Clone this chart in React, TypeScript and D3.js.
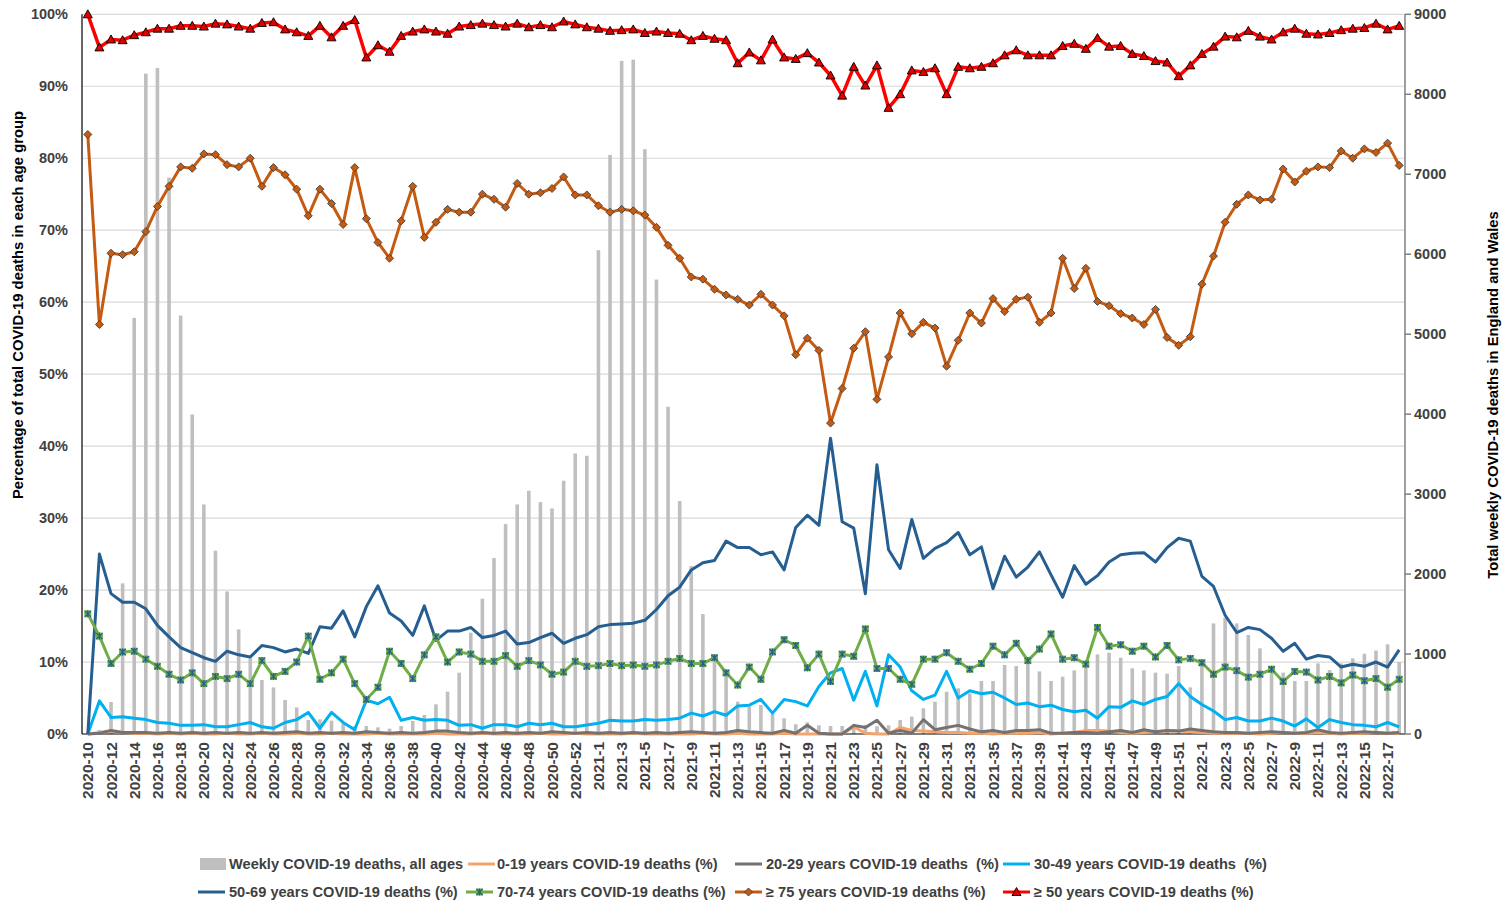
import React, { useEffect, useRef } from 'react';
import * as d3 from 'd3';

// ---- categories (ISO weeks) ----
const weekRanges: [number, number, number][] = [
  [2020, 10, 53],
  [2021, 1, 52],
  [2022, 1, 18],
];
const weeks: string[] = [];
weekRanges.forEach(([yr, a, b]) => {
  for (let w = a; w <= b; w++) weeks.push(`${yr}-${w}`);
});

// ---- series ----
const weeklyDeaths = [10, 50, 400, 1884, 5204, 8258, 8329, 6958, 5233, 3996, 2871, 2292, 1783, 1308, 946, 675, 583, 425, 333, 175,
  183, 167, 133, 100, 100, 83, 67, 100, 163, 238, 371, 529, 767, 1267, 1692, 2200, 2625, 2871, 3042, 2900,
  2821, 3167, 3508, 3479, 6050, 7242, 8417, 8433, 7313, 5683, 4092, 2913, 2100, 1500, 988, 767, 404, 342, 363, 250,
  196, 121, 146, 108, 100, 100, 115, 115, 96, 108, 175, 217, 321, 404, 529, 571, 508, 663, 663, 863,
  850, 883, 783, 663, 717, 796, 863, 996, 1017, 954, 821, 796, 767, 754, 850, 583, 900, 1383, 1454, 1383,
  1238, 1071, 800, 767, 663, 663, 883, 800, 883, 946, 1004, 1042, 1121, 900];

const pct0to19 = [0, 0.2, 0.4, 0.2, 0.1, 0.1, 0, 0.1, 0, 0.1, 0, 0, 0.1, 0, 0, 0.1, 0, 0, 0.1, 0,
  0, 0.1, 0, 0, 0, 0.1, 0, 0, 0, 0, 0.1, 0, 0, 0, 0.1, 0, 0, 0, 0, 0.1,
  0, 0, 0.1, 0, 0, 0, 0, 0.1, 0, 0, 0, 0, 0, 0.1, 0, 0, 0.1, 0, 0, 0,
  0.1, 0, 0, 0, 0, 0, 1.0, 0.1, 0, 0, 0.9, 0.5, 0.4, 0.3, 0.2, 0.2, 0.1, 0.1, 0, 0.1,
  0.1, 0.1, 0.2, 0, 0.1, 0.2, 0.5, 0.5, 0.4, 0.2, 0.1, 0.2, 0.3, 0.4, 0.4, 0.3, 0.2, 0.1, 0.1, 0.1,
  0.1, 0, 0.1, 0.2, 0.1, 0.1, 0.2, 0.1, 0, 0.1, 0.1, 0.2, 0.1, 0.1];

const pct20to29 = [0, 0.1, 0.5, 0.2, 0.2, 0.2, 0.1, 0.2, 0.1, 0.2, 0.1, 0.2, 0.1, 0.2, 0.1, 0.2, 0.1, 0.2, 0.3, 0.1,
  0.2, 0.1, 0.2, 0.1, 0.3, 0.2, 0.1, 0.2, 0.1, 0.2, 0.4, 0.4, 0.2, 0.1, 0.2, 0.1, 0.2, 0.1, 0.2, 0.1,
  0.3, 0.2, 0.1, 0.2, 0.1, 0.2, 0.1, 0.2, 0.1, 0.2, 0.1, 0.2, 0.3, 0.2, 0.1, 0.2, 0.5, 0.3, 0.2, 0.1,
  0.5, 0.1, 1.2, 0.1, 0, 0, 1.2, 0.9, 1.9, 0.1, 0.5, 0.1, 2.0, 0.6, 0.9, 1.2, 0.7, 0.3, 0.5, 0.2,
  0.5, 0.5, 0.6, 0.1, 0.1, 0.2, 0.2, 0.1, 0.3, 0.5, 0.2, 0.6, 0.3, 0.5, 0.4, 0.7, 0.5, 0.3, 0.2, 0.2,
  0.1, 0.2, 0.3, 0.2, 0.1, 0.2, 0.6, 0.2, 0.1, 0.2, 0.3, 0.2, 0.1, 0.2];

const pct30to49 = [0, 4.6, 2.3, 2.4, 2.2, 2.0, 1.6, 1.5, 1.2, 1.2, 1.3, 1.0, 1.0, 1.3, 1.6, 1.0, 0.8, 1.6, 2.0, 3.0,
  0.8, 3.0, 1.6, 0.6, 4.7, 4.2, 5.1, 1.9, 2.3, 1.9, 2.0, 1.9, 1.2, 1.3, 0.8, 1.3, 1.3, 1.0, 1.5, 1.3,
  1.5, 1.0, 1.0, 1.25, 1.5, 1.9, 1.8, 1.8, 2.0, 1.9, 2.0, 2.2, 2.9, 2.5, 3.1, 2.6, 3.9, 4.0, 4.8, 2.9,
  4.8, 4.5, 3.9, 6.6, 8.5, 9.1, 4.7, 8.7, 3.9, 11.0, 9.3, 6.0, 4.8, 5.4, 8.7, 5.0, 6.0, 5.6, 5.8, 5.0,
  4.1, 4.3, 3.8, 4.0, 3.4, 3.1, 3.3, 2.2, 3.8, 3.7, 4.6, 4.1, 4.8, 5.2, 7.0, 5.2, 4.1, 3.2, 2.0, 2.3,
  1.8, 1.8, 2.2, 1.8, 1.1, 2.1, 0.9, 2.0, 1.6, 1.3, 1.2, 1.0, 1.6, 1.0];

const pct50to69 = [0, 25.0, 19.5, 18.3, 18.3, 17.4, 15.1, 13.5, 12.0, 11.3, 10.6, 10.1, 11.5, 11.0, 10.7, 12.3, 12.0, 11.4, 11.8, 11.2,
  14.9, 14.7, 17.1, 13.5, 17.7, 20.6, 16.8, 15.7, 13.7, 17.8, 13.0, 14.3, 14.3, 14.8, 13.4, 13.7, 14.3, 12.5, 12.7, 13.4,
  14.0, 12.6, 13.3, 13.8, 14.9, 15.2, 15.3, 15.4, 15.8, 17.3, 19.2, 20.4, 22.8, 23.8, 24.1, 26.8, 25.9, 25.9, 24.9, 25.3,
  22.8, 28.7, 30.4, 29.0, 41.1, 29.5, 28.6, 19.5, 37.4, 25.6, 23.0, 29.8, 24.4, 25.8, 26.6, 28.0, 24.9, 26.0, 20.2, 24.7,
  21.8, 23.2, 25.3, 22.1, 19.0, 23.4, 20.8, 22.0, 23.9, 24.9, 25.1, 25.2, 23.9, 25.9, 27.2, 26.8, 21.9, 20.5, 16.5, 14.1,
  14.8, 14.5, 13.3, 11.5, 12.6, 10.4, 10.9, 10.7, 9.3, 9.7, 9.4, 10.0, 9.3, 11.7];

const pct70to74 = [16.7, 13.6, 9.8, 11.4, 11.5, 10.4, 9.4, 8.3, 7.5, 8.5, 7.0, 8.0, 7.7, 8.3, 7.0, 10.2, 8.0, 8.7, 10.0, 13.6,
  7.6, 8.5, 10.4, 7.0, 4.8, 6.5, 11.5, 9.8, 7.7, 11.0, 13.5, 10.0, 11.4, 11.1, 10.1, 10.1, 10.9, 9.4, 10.2, 9.6,
  8.3, 8.6, 10.1, 9.4, 9.5, 9.8, 9.5, 9.6, 9.4, 9.6, 10.1, 10.5, 9.8, 9.8, 10.6, 8.5, 6.8, 9.3, 7.6, 11.4,
  13.1, 12.3, 9.2, 11.1, 7.3, 11.1, 10.8, 14.6, 9.1, 9.1, 7.6, 6.9, 10.4, 10.4, 11.3, 10.1, 9.0, 9.8, 12.2, 11.0,
  12.6, 10.2, 11.8, 13.9, 10.4, 10.6, 9.7, 14.8, 12.2, 12.4, 11.5, 12.2, 10.7, 12.3, 10.3, 10.5, 9.9, 8.3, 9.3, 8.8,
  7.9, 8.3, 9.0, 7.3, 8.7, 8.6, 7.5, 8.0, 7.1, 8.2, 7.4, 7.7, 6.5, 7.6];

const pct75plus = [83.3, 56.9, 66.8, 66.6, 67.0, 69.8, 73.3, 76.1, 78.8, 78.6, 80.6, 80.5, 79.1, 78.8, 80.0, 76.1, 78.7, 77.7, 75.7, 72.0,
  75.7, 73.7, 70.8, 78.7, 71.6, 68.3, 66.1, 71.3, 76.1, 69.0, 71.1, 72.9, 72.5, 72.5, 75.0, 74.3, 73.2, 76.5, 75.0, 75.2,
  75.8, 77.4, 74.9, 74.9, 73.4, 72.5, 72.9, 72.7, 72.1, 70.4, 67.9, 66.1, 63.5, 63.2, 61.8, 61.0, 60.4, 59.6, 61.1, 59.6,
  58.1, 52.7, 55.0, 53.3, 43.2, 48.0, 53.6, 55.9, 46.5, 52.4, 58.5, 55.6, 57.2, 56.4, 51.1, 54.7, 58.5, 57.1, 60.5, 58.7,
  60.4, 60.7, 57.2, 58.5, 66.1, 61.9, 64.7, 60.1, 59.5, 58.4, 57.8, 56.9, 59.0, 55.1, 54.0, 55.2, 62.5, 66.4, 71.1, 73.6,
  74.9, 74.2, 74.3, 78.5, 76.7, 78.2, 78.8, 78.7, 81.0, 80.0, 81.3, 80.8, 82.1, 79.0];

const pct50plus = [100, 95.4, 96.5, 96.4, 97.1, 97.5, 98.0, 98.0, 98.4, 98.4, 98.3, 98.7, 98.6, 98.3, 98.0, 98.8, 98.9, 97.9, 97.5, 97.0,
  98.4, 96.8, 98.4, 99.2, 94.0, 95.7, 94.8, 97.0, 97.6, 97.9, 97.6, 97.3, 98.3, 98.5, 98.7, 98.5, 98.3, 98.7, 98.2, 98.5,
  98.2, 99.0, 98.6, 98.2, 98.0, 97.7, 97.8, 97.9, 97.4, 97.6, 97.4, 97.3, 96.4, 97.0, 96.6, 96.4, 93.2, 94.7, 93.6, 96.5,
  94.0, 93.8, 94.6, 93.3, 91.5, 88.7, 92.7, 90.1, 92.9, 87.0, 88.9, 92.2, 92.0, 92.5, 88.9, 92.7, 92.5, 92.7, 93.2, 94.3,
  95.0, 94.3, 94.3, 94.3, 95.6, 95.9, 95.2, 96.7, 95.5, 95.6, 94.5, 94.2, 93.5, 93.3, 91.4, 92.9, 94.5, 95.5, 96.9, 96.8,
  97.7, 96.9, 96.5, 97.5, 98.0, 97.3, 97.2, 97.4, 97.8, 98.0, 98.1, 98.7, 97.9, 98.4];

const pctTicks = [0, 10, 20, 30, 40, 50, 60, 70, 80, 90, 100];
const deathTicks = [0, 1000, 2000, 3000, 4000, 5000, 6000, 7000, 8000, 9000];

type Marker = 'none' | 'triangle' | 'diamond' | 'star';
interface LineSeries { name: string; values: number[]; color: string; marker: Marker; width: number; }
const lineSeries: LineSeries[] = [
  { name: '0-19 years COVID-19 deaths (%)', values: pct0to19, color: '#f4a46a', marker: 'none', width: 3 },
  { name: '20-29 years COVID-19 deaths  (%)', values: pct20to29, color: '#757171', marker: 'none', width: 3 },
  { name: '30-49 years COVID-19 deaths  (%)', values: pct30to49, color: '#00b0f0', marker: 'none', width: 3 },
  { name: '50-69 years COVID-19 deaths (%)', values: pct50to69, color: '#255e91', marker: 'none', width: 3 },
  { name: '70-74 years COVID-19 deaths (%)', values: pct70to74, color: '#70ad47', marker: 'star', width: 3 },
  { name: '≥ 75 years COVID-19 deaths (%)', values: pct75plus, color: '#c55a11', marker: 'diamond', width: 3 },
  { name: '≥ 50 years COVID-19 deaths (%)', values: pct50plus, color: '#ff0000', marker: 'triangle', width: 3.5 },
];
const barName = 'Weekly COVID-19 deaths, all ages';

const FONT = "'Liberation Sans', Arial, sans-serif";
const TXT = '#404040';

function drawMarker(g: d3.Selection<SVGGElement, unknown, null, undefined>, m: Marker, x: number, y: number, color: string) {
  if (m === 'triangle') {
    g.append('path').attr('d', `M${x},${y - 4.5}L${x + 4.5},${y + 3.5}L${x - 4.5},${y + 3.5}Z`)
      .attr('fill', '#e00000').attr('stroke', '#000').attr('stroke-width', 0.9);
  } else if (m === 'diamond') {
    g.append('path').attr('d', `M${x},${y - 4}L${x + 4},${y}L${x},${y + 4}L${x - 4},${y}Z`)
      .attr('fill', color).attr('stroke', '#404040').attr('stroke-width', 0.9);
  } else if (m === 'star') {
    g.append('rect').attr('x', x - 3.5).attr('y', y - 3.5).attr('width', 7).attr('height', 7)
      .attr('fill', color);
    g.append('path').attr('d', `M${x - 3},${y - 3}L${x + 3},${y + 3}M${x + 3},${y - 3}L${x - 3},${y + 3}M${x},${y - 3.5}L${x},${y + 3.5}`)
      .attr('stroke', '#255e91').attr('stroke-width', 1.2).attr('fill', 'none');
  }
}

export default function App() {
  const ref = useRef<SVGSVGElement>(null);
  useEffect(() => {
    const svg = d3.select(ref.current!);
    svg.selectAll('*').remove();
    const left = 82, right = 1405, top = 14.3, bottom = 734;
    const x = d3.scaleBand<string>().domain(weeks).range([left, right]).padding(0);
    const cx = (w: string) => (x(w) as number) + x.bandwidth() / 2;
    const yP = d3.scaleLinear().domain([0, 100]).range([bottom, top]);
    const yD = d3.scaleLinear().domain([0, 9000]).range([bottom, top]);

    // gridlines
    svg.append('g').selectAll('line').data(pctTicks.filter(t => t > 0)).join('line')
      .attr('x1', left).attr('x2', right).attr('y1', d => yP(d)).attr('y2', d => yP(d))
      .attr('stroke', '#d9d9d9').attr('stroke-width', 1.2);

    // bars
    const bw = 3.6;
    svg.append('g').selectAll('rect').data(weeklyDeaths).join('rect')
      .attr('x', (d, i) => cx(weeks[i]) - bw / 2).attr('width', bw)
      .attr('y', d => yD(d)).attr('height', d => bottom - yD(d))
      .attr('fill', '#bfbfbf');

    // axes lines
    svg.append('line').attr('x1', left).attr('x2', right).attr('y1', bottom).attr('y2', bottom)
      .attr('stroke', '#000').attr('stroke-width', 1.2);
    svg.append('line').attr('x1', left).attr('x2', left).attr('y1', top).attr('y2', bottom)
      .attr('stroke', '#000').attr('stroke-width', 1.2);
    svg.append('line').attr('x1', right).attr('x2', right).attr('y1', top).attr('y2', bottom)
      .attr('stroke', '#7f7f7f').attr('stroke-width', 1.5);
    svg.append('g').selectAll('line').data(deathTicks).join('line')
      .attr('x1', right).attr('x2', right + 6).attr('y1', d => yD(d)).attr('y2', d => yD(d))
      .attr('stroke', '#7f7f7f').attr('stroke-width', 1.5);

    // lines
    const lineGen = d3.line<number>().x((d, i) => cx(weeks[i])).y(d => yP(d));
    lineSeries.forEach(s => {
      const g = svg.append('g');
      g.append('path').datum(s.values).attr('d', lineGen).attr('fill', 'none')
        .attr('stroke', s.color).attr('stroke-width', s.width).attr('stroke-linejoin', 'round');
      if (s.marker !== 'none') {
        s.values.forEach((v, i) => drawMarker(g, s.marker, cx(weeks[i]), yP(v), s.color));
      }
    });

    // left tick labels
    svg.append('g').selectAll('text').data(pctTicks).join('text')
      .attr('x', 68).attr('y', d => yP(d)).attr('dy', '0.35em').attr('text-anchor', 'end')
      .attr('font-family', FONT).attr('font-size', 14.5).attr('font-weight', 'bold').attr('fill', TXT)
      .text(d => `${d}%`);
    // right tick labels
    svg.append('g').selectAll('text').data(deathTicks).join('text')
      .attr('x', 1414).attr('y', d => yD(d)).attr('dy', '0.35em').attr('text-anchor', 'start')
      .attr('font-family', FONT).attr('font-size', 14.5).attr('font-weight', 'bold').attr('fill', TXT)
      .text(d => `${d}`);
    // x tick labels
    svg.append('g').selectAll('text').data(weeks.filter((w, i) => i % 2 === 0)).join('text')
      .attr('transform', d => `translate(${cx(d) + 5.5},742) rotate(-90)`)
      .attr('text-anchor', 'end')
      .attr('font-family', FONT).attr('font-size', 15.5).attr('font-weight', 'bold').attr('fill', TXT)
      .text(d => d);

    // axis titles
    svg.append('text').attr('transform', 'translate(23,305) rotate(-90)').attr('text-anchor', 'middle')
      .attr('font-family', FONT).attr('font-size', 14.8).attr('font-weight', 'bold').attr('fill', '#000')
      .text('Percentage of total COVID-19 deaths in each age group');
    svg.append('text').attr('transform', 'translate(1498,395) rotate(-90)').attr('text-anchor', 'middle')
      .attr('font-family', FONT).attr('font-size', 14.8).attr('font-weight', 'bold').attr('fill', '#000')
      .text('Total weekly COVID-19 deaths in England and Wales');

    // legend
    const legend = svg.append('g');
    const items: { sym: number; tx: number; y: number; s: LineSeries | null }[] = [
      { sym: 200, tx: 229, y: 864, s: null },
      { sym: 468, tx: 497, y: 864, s: lineSeries[0] },
      { sym: 735, tx: 766, y: 864, s: lineSeries[1] },
      { sym: 1003, tx: 1034, y: 864, s: lineSeries[2] },
      { sym: 198, tx: 229, y: 892, s: lineSeries[3] },
      { sym: 466, tx: 497, y: 892, s: lineSeries[4] },
      { sym: 735, tx: 766, y: 892, s: lineSeries[5] },
      { sym: 1003, tx: 1034, y: 892, s: lineSeries[6] },
    ];
    items.forEach(it => {
      const g = legend.append('g');
      if (!it.s) {
        g.append('rect').attr('x', it.sym).attr('y', it.y - 6).attr('width', 26).attr('height', 12).attr('fill', '#bfbfbf');
        g.append('text').attr('x', it.tx).attr('y', it.y).attr('dy', '0.35em')
          .attr('font-family', FONT).attr('font-size', 14.6).attr('font-weight', 'bold').attr('fill', TXT)
          .style('white-space', 'pre').text(barName);
      } else {
        g.append('line').attr('x1', it.sym).attr('x2', it.sym + 27).attr('y1', it.y).attr('y2', it.y)
          .attr('stroke', it.s.color).attr('stroke-width', 3);
        if (it.s.marker !== 'none') drawMarker(g, it.s.marker, it.sym + 13.5, it.y, it.s.color);
        g.append('text').attr('x', it.tx).attr('y', it.y).attr('dy', '0.35em')
          .attr('font-family', FONT).attr('font-size', 14.6).attr('font-weight', 'bold').attr('fill', TXT)
          .style('white-space', 'pre').text(it.s.name);
      }
    });
  }, []);
  return (
    <svg ref={ref} width={1507} height={904}
      style={{ position: 'absolute', left: 0, top: 0, background: '#fff' }} />
  );
}
